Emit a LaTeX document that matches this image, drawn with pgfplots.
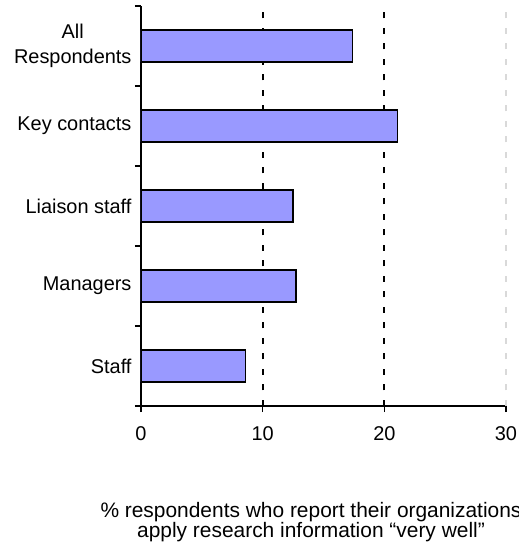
\documentclass[border=0pt]{standalone}
\usepackage{pgfplots}
\pgfplotsset{compat=1.18}
\usepackage{fontspec}
\setmainfont{Liberation Sans}
\definecolor{barblue}{RGB}{153,153,255}
\begin{document}
\begin{tikzpicture}
\begin{axis}[
  name=ax,
  scale only axis,
  width=365bp, height=400bp,
  xmin=0, xmax=30, ymin=-0.5, ymax=4.5,
  axis lines*=left,
  axis line style={line width=1.6bp},
  tick style={line width=1.6bp, black},
  tick align=outside,
  major tick length=6bp,
  xtick={0,10,20},
  extra x ticks={30},
  xmajorgrids,
  grid style={line width=1.8bp},
  major grid style={black, line width=1.8bp, dash pattern=on 6bp off 9.5bp},
  extra x tick style={major grid style={gray!30, line width=1.2bp, dash pattern=on 6bp off 9.5bp}},
  ytick={-0.5,0.5,1.5,2.5,3.5,4.5},
  yticklabels={,,,,,},
  extra y ticks={0,1,2,3,4},
  extra y tick labels={Staff, Managers, Liaison staff, Key contacts, {All\\Respondents}},
  extra y tick style={major tick length=0pt, ymajorgrids=false, yticklabel style={align=center}},
  yticklabel style={font=\fontsize{20}{25}\selectfont, xshift=-6bp},
  xticklabel style={font=\fontsize{20}{22}\selectfont, yshift=-11bp},
  /pgf/number format/assume math mode=true,
]
\addplot[xbar, bar width=32bp, fill=barblue, draw=black, line width=1.3bp]
  coordinates {(8.6,0) (12.75,1) (12.5,2) (21.1,3) (17.4,4)};
\end{axis}
\node[anchor=base, font=\fontsize{21}{24}\selectfont] at ([xshift=170bp,yshift=-111bp]ax.south west) {\% respondents who report their organizations};
\node[anchor=base, font=\fontsize{21}{24}\selectfont] at ([xshift=170bp,yshift=-131bp]ax.south west) {apply research information “very well”};
\pgfresetboundingbox
\path[use as bounding box] ([xshift=-141bp,yshift=-146bp]ax.south west) rectangle ([xshift=13bp,yshift=6bp]ax.north east);
\end{tikzpicture}
\end{document}
